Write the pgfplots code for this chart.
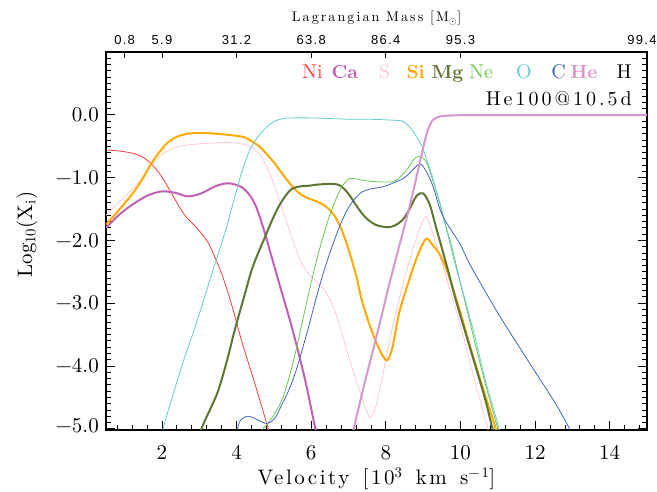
\documentclass[border=0pt]{standalone}
\usepackage{fontspec}
\usepackage{pgfplots}
\pgfplotsset{compat=1.18}
\newfontfamily\lmr{lmroman10-regular.otf}[BoldFont=lmroman10-bold.otf]
\newfontfamily\wide{lmroman10-regular.otf}[LetterSpace=12,WordSpace=1.4]
\newfontfamily\wider{lmroman10-regular.otf}[LetterSpace=15]
\newfontfamily\widesans{Liberation Sans}[LetterSpace=10]
\newcommand\tickf{\lmr\fontsize{21}{24}\selectfont}
\newcommand\legf{\lmr\fontsize{20}{24}\selectfont}
\newcommand\legb{\lmr\fontsize{19}{24}\selectfont\bfseries}
\definecolor{cNi}{RGB}{255,60,60}
\definecolor{cCa}{RGB}{196,96,180}
\definecolor{cS}{RGB}{255,200,210}
\definecolor{cSi}{RGB}{255,170,0}
\definecolor{cMg}{RGB}{94,118,52}
\definecolor{cNe}{RGB}{110,200,80}
\definecolor{cO}{RGB}{100,205,205}
\definecolor{cC}{RGB}{65,100,190}
\definecolor{cHe}{RGB}{215,150,205}
\begin{document}
\begin{tikzpicture}
\path[use as bounding box] (-106pt,-62pt) rectangle (551pt,430pt);
\begin{axis}[
  at={(0,0)}, anchor=south west,
  scale only axis, width=541pt, height=378pt,
  xmin=0.5, xmax=15, ymin=-5.02, ymax=1.0,
  xtick={2,4,...,14},
  xticklabels={2,4,6,8,10,12,14},
  minor xtick={0.8,1.2,1.6,2.4,2.8,3.2,3.6,4.4,4.8,5.2,5.6,6.4,6.8,7.2,7.6,8.4,8.8,9.2,9.6,10.4,10.8,11.2,11.6,12.4,12.8,13.2,13.6,14.4,14.8},
  ytick={-5,-4,-3,-2,-1,0},
  yticklabels={\raisebox{6pt}{−5.0},−4.0,−3.0,−2.0,−1.0,0.0},
  minor ytick={-5,-4.9,...,1},
  xtick pos=bottom, ytick pos=both,
  tick align=inside,
  major tick length=9pt, minor tick length=5pt,
  every tick/.style={black, line width=0.8pt},
  axis line style={line width=1.2pt, black},
  ticklabel style={font=\tickf},
  xticklabel style={anchor=north, inner sep=0pt, yshift=-15pt},
  yticklabel style={anchor=east, inner sep=0pt, xshift=-7pt},
  xlabel={Velocity [10\textsuperscript{3} km s\textsuperscript{−1}]},
  ylabel={Log\textsubscript{10}(X\textsubscript{i})},
  xlabel style={font=\wide\fontsize{21}{24}\selectfont, at={(axis description cs:0.5,0)}, anchor=base, inner sep=0pt, yshift=-55pt},
  ylabel style={font=\lmr\fontsize{21}{24}\selectfont, at={(axis description cs:0,0.517)}, anchor=center, inner sep=0pt, yshift=79pt},
  clip=true,
]
% Ni
\addplot[cNi, line width=0.8pt, smooth] coordinates {(0.5,-0.56) (0.9,-0.58) (1.27,-0.62) (1.5,-0.68) (1.71,-0.78) (1.95,-0.95) (2.16,-1.15) (2.4,-1.40) (2.61,-1.60) (2.85,-1.75) (3.06,-1.89) (3.25,-2.05) (3.42,-2.27) (3.6,-2.53) (3.78,-2.85) (3.95,-3.2) (4.13,-3.59) (4.3,-3.92) (4.49,-4.28) (4.67,-4.64) (4.85,-5.0) (5.0,-5.3)};
% Ca
\addplot[cCa, line width=2pt, smooth] coordinates {(0.5,-1.80) (0.8,-1.62) (1.0,-1.52) (1.26,-1.41) (1.6,-1.29) (1.98,-1.22) (2.34,-1.24) (2.70,-1.30) (3.06,-1.25) (3.42,-1.14) (3.78,-1.09) (4.13,-1.15) (4.35,-1.28) (4.49,-1.42) (4.62,-1.62) (4.76,-1.89) (5.12,-2.64) (5.48,-3.38) (5.84,-4.23) (6.11,-5.0) (6.2,-5.25)};
% S
\addplot[cS, line width=0.8pt, smooth] coordinates {(0.5,-1.60) (0.9,-1.36) (1.27,-1.15) (1.5,-0.98) (1.71,-0.81) (2.0,-0.63) (2.34,-0.52) (2.7,-0.48) (3.06,-0.46) (3.42,-0.45) (3.78,-0.44) (4.1,-0.46) (4.31,-0.49) (4.5,-0.56) (4.67,-0.67) (4.85,-0.88) (5.03,-1.15) (5.2,-1.45) (5.39,-1.79) (5.57,-2.10) (5.75,-2.37) (5.93,-2.53) (6.11,-2.64) (6.3,-2.75) (6.47,-2.90) (6.65,-3.15) (6.83,-3.49) (7.0,-3.85) (7.18,-4.18) (7.36,-4.50) (7.5,-4.74) (7.6,-4.82) (7.75,-4.6) (7.9,-4.2) (8.1,-3.6) (8.35,-2.95) (8.6,-2.4) (8.8,-2.0) (8.97,-1.72) (9.09,-1.62) (9.2,-1.78) (9.34,-2.05) (9.5,-2.35) (9.7,-2.75) (10.0,-3.35) (10.24,-3.91) (10.5,-4.5) (10.73,-5.0) (10.85,-5.3)};
% Si
\addplot[cSi, line width=2pt, smooth] coordinates {(0.5,-1.75) (0.9,-1.48) (1.27,-1.21) (1.5,-1.0) (1.71,-0.78) (1.95,-0.58) (2.16,-0.44) (2.4,-0.35) (2.7,-0.30) (3.06,-0.29) (3.42,-0.30) (3.78,-0.32) (4.05,-0.34) (4.22,-0.36) (4.4,-0.42) (4.58,-0.49) (4.8,-0.62) (5.03,-0.78) (5.25,-0.96) (5.48,-1.13) (5.66,-1.24) (5.84,-1.31) (6.06,-1.36) (6.29,-1.42) (6.47,-1.50) (6.65,-1.63) (6.83,-1.85) (7.01,-2.16) (7.2,-2.55) (7.36,-2.96) (7.55,-3.32) (7.72,-3.59) (7.9,-3.82) (8.04,-3.91) (8.18,-3.70) (8.35,-3.17) (8.6,-2.68) (8.8,-2.32) (8.97,-2.08) (9.10,-1.97) (9.25,-2.07) (9.43,-2.21) (9.6,-2.42) (9.79,-2.75) (10.0,-3.15) (10.24,-3.65) (10.6,-4.35) (10.95,-5.0) (11.1,-5.3)};
% Mg
\addplot[cMg, line width=2pt, smooth] coordinates {(2.95,-5.3) (3.06,-5.0) (3.3,-4.68) (3.51,-4.39) (3.75,-3.90) (3.95,-3.43) (4.2,-2.90) (4.40,-2.48) (4.6,-2.17) (4.76,-1.95) (4.95,-1.68) (5.12,-1.47) (5.3,-1.30) (5.48,-1.18) (5.7,-1.14) (5.93,-1.13) (6.2,-1.11) (6.56,-1.10) (6.75,-1.12) (6.9,-1.19) (7.05,-1.30) (7.18,-1.42) (7.36,-1.57) (7.54,-1.68) (7.72,-1.75) (7.9,-1.78) (8.08,-1.79) (8.25,-1.76) (8.44,-1.68) (8.62,-1.52) (8.8,-1.31) (8.92,-1.25) (9.0,-1.25) (9.1,-1.33) (9.20,-1.47) (9.35,-1.80) (9.52,-2.16) (9.7,-2.55) (9.88,-2.96) (10.15,-3.50) (10.41,-4.02) (10.65,-4.5) (10.86,-5.0) (11.0,-5.3)};
% Ne
\addplot[cNe, line width=0.8pt, smooth] coordinates {(4.6,-5.2) (4.67,-5.03) (4.85,-4.91) (5.03,-4.75) (5.21,-4.55) (5.39,-4.22) (5.57,-3.81) (5.75,-3.33) (5.93,-2.85) (6.11,-2.40) (6.29,-2.0) (6.47,-1.65) (6.65,-1.36) (6.83,-1.14) (7.01,-1.02) (7.18,-1.02) (7.36,-1.04) (7.6,-1.06) (7.90,-1.07) (8.1,-1.07) (8.26,-1.05) (8.45,-0.95) (8.62,-0.83) (8.75,-0.71) (8.89,-0.66) (9.0,-0.69) (9.11,-0.78) (9.25,-1.03) (9.43,-1.36) (9.6,-1.75) (9.79,-2.16) (10.05,-2.8) (10.33,-3.49) (10.65,-4.25) (11.0,-5.0) (11.12,-5.3)};
% O
\addplot[cO, line width=0.8pt, smooth] coordinates {(1.95,-5.3) (2.03,-5.0) (2.3,-4.45) (2.61,-3.86) (2.85,-3.45) (3.06,-3.06) (3.3,-2.6) (3.51,-2.21) (3.75,-1.75) (3.95,-1.31) (4.13,-0.93) (4.31,-0.62) (4.49,-0.42) (4.67,-0.28) (4.85,-0.17) (5.03,-0.10) (5.25,-0.06) (5.48,-0.05) (6.0,-0.05) (6.5,-0.06) (7.0,-0.07) (7.5,-0.07) (8.0,-0.08) (8.3,-0.09) (8.44,-0.10) (8.6,-0.17) (8.71,-0.25) (8.85,-0.37) (8.98,-0.52) (9.1,-0.72) (9.25,-0.99) (9.38,-1.28) (9.52,-1.58) (9.7,-2.0) (9.88,-2.43) (10.15,-3.0) (10.41,-3.59) (10.7,-4.3) (11.04,-5.0) (11.15,-5.3)};
% C
\addplot[cC, line width=0.8pt, smooth] coordinates {(3.95,-5.2) (4.0,-5.05) (4.1,-4.87) (4.3,-4.80) (4.5,-4.84) (4.75,-4.91) (4.9,-4.90) (5.05,-4.81) (5.21,-4.62) (5.39,-4.40) (5.57,-4.12) (5.75,-3.76) (5.93,-3.38) (6.11,-2.97) (6.29,-2.59) (6.47,-2.25) (6.65,-1.95) (6.83,-1.68) (7.01,-1.47) (7.18,-1.33) (7.36,-1.23) (7.6,-1.18) (7.90,-1.15) (8.1,-1.11) (8.26,-1.07) (8.45,-1.02) (8.62,-0.94) (8.78,-0.84) (8.91,-0.78) (9.02,-0.84) (9.16,-0.99) (9.3,-1.2) (9.43,-1.47) (9.56,-1.65) (9.70,-1.79) (10.0,-2.07) (10.24,-2.37) (10.7,-2.85) (11.13,-3.28) (11.6,-3.72) (12.03,-4.12) (12.5,-4.55) (12.88,-4.95) (13.0,-5.1)};
% He
\addplot[cHe, line width=2pt, smooth] coordinates {(7.05,-5.3) (7.14,-5.0) (7.45,-4.23) (7.7,-3.65) (7.90,-3.17) (8.1,-2.68) (8.35,-2.11) (8.6,-1.55) (8.80,-1.05) (8.95,-0.65) (9.07,-0.36) (9.16,-0.19) (9.25,-0.09) (9.38,-0.04) (9.52,-0.02) (9.8,-0.01) (10.5,-0.005) (15,-0.005)};
% legend text
\node[anchor=base west, inner sep=0pt, font=\legf, text=cNi] at (axis cs:5.75,0.573) {Ni};
\node[anchor=base west, inner sep=0pt, font=\legb, text=cCa] at (axis cs:6.54,0.573) {Ca};
\node[anchor=base west, inner sep=0pt, font=\legf, text=cS] at (axis cs:7.81,0.573) {S};
\node[anchor=base west, inner sep=0pt, font=\legb, text=cSi] at (axis cs:8.55,0.573) {Si};
\node[anchor=base west, inner sep=0pt, font=\legb, text=cMg] at (axis cs:9.22,0.573) {Mg};
\node[anchor=base west, inner sep=0pt, font=\legf, text=cNe] at (axis cs:10.23,0.573) {Ne};
\node[anchor=base west, inner sep=0pt, font=\legf, text=cO] at (axis cs:11.49,0.573) {O};
\node[anchor=base west, inner sep=0pt, font=\legf, text=cC] at (axis cs:12.43,0.573) {C};
\node[anchor=base west, inner sep=0pt, font=\legb, text=cHe] at (axis cs:12.94,0.573) {He};
\node[anchor=base west, inner sep=0pt, font=\legf, text=black] at (axis cs:14.18,0.573) {H};
\node[anchor=base east, inner sep=0pt, font=\wider\fontsize{20}{24}\selectfont, text=black] at (axis cs:14.6,0.148) {He100@10.5d};
\end{axis}
\begin{axis}[
  at={(0,0)}, anchor=south west,
  scale only axis, width=541pt, height=378pt,
  xmin=0.5, xmax=15, ymin=-5.02, ymax=1.0,
  axis x line*=top, axis y line=none,
  xtick={1,2,4,6,8,10,15},
  xticklabels={0.8,5.9,31.2,63.8,86.4,95.3,\hspace*{-10pt}99.4},
  minor xtick={},
  tick align=inside, major tick length=6pt,
  every tick/.style={black, line width=0.8pt},
  axis line style={line width=1.2pt, black},
  xticklabel style={font=\widesans\fontsize{13}{15}\selectfont, anchor=south, inner sep=0pt, yshift=7pt},
  xlabel={Lagrangian Mass [M$_\odot$]},
  xlabel style={font=\wider\fontsize{14}{16}\selectfont, at={(axis description cs:0.5,1)}, anchor=base, inner sep=0pt, yshift=30pt},
]
\addplot[draw=none] coordinates {(1,0)};
\end{axis}
\end{tikzpicture}
\end{document}
